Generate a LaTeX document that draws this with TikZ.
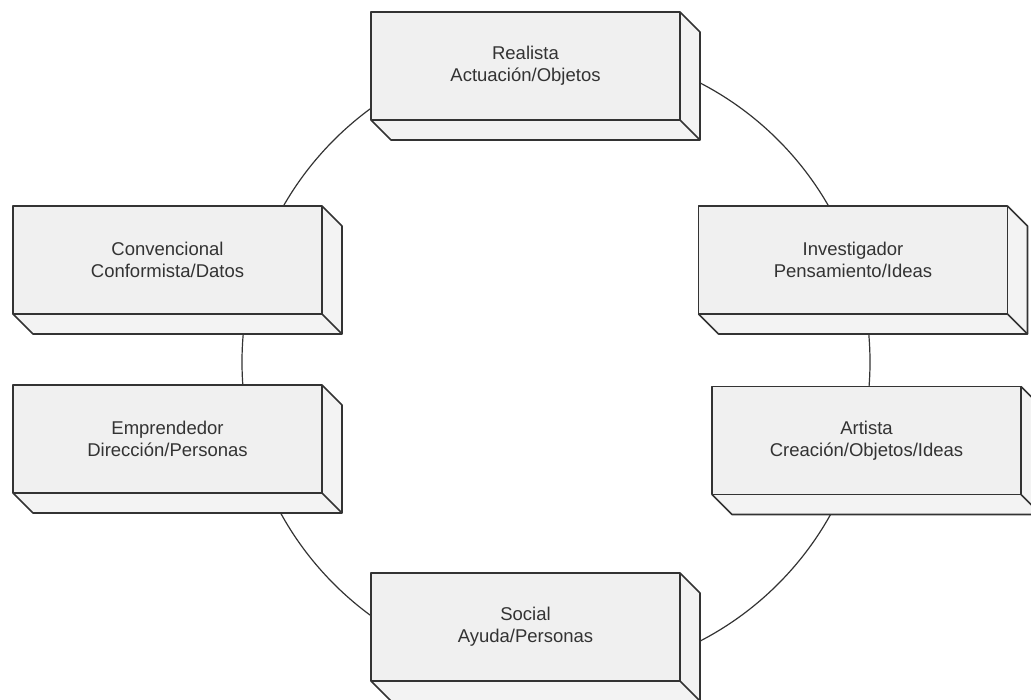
\documentclass[tikz,border=0pt]{standalone}
\usepackage{fontspec}
\setmainfont{Liberation Sans}
\definecolor{facefill}{HTML}{F0F0F0}
\definecolor{sidefill}{HTML}{F3F3F3}
\definecolor{edge}{HTML}{333333}
\definecolor{txt}{HTML}{333333}
\tikzset{
  front/.style={rectangle,
    minimum width=309pt, minimum height=108pt, inner sep=0pt, outer sep=0pt,
    align=center, text=txt, font=\fontsize{18.5}{22}\selectfont},
  side/.style={draw=edge, line width=1.6pt, line join=round},
  ring/.style={draw=edge, line width=1.2pt}
}
\newcommand{\depthbox}[4]{%
  \node[front] (#1) at (#2,#3) {};
  \fill[sidefill] (#1.north east) -- ++(20,20) -- ([shift={(20,20)}]#1.south east)
     -- ([shift={(20,20)}]#1.south west) -- (#1.south west) -- (#1.south east) -- cycle;
  \draw[side, fill=facefill] (#1.north west) rectangle (#1.south east);
  \draw[side] (#1.north east) -- ++(20,20) -- ([shift={(20,20)}]#1.south east) -- ([shift={(20,20)}]#1.south west) -- (#1.south west);
  \draw[side] (#1.south east) -- ([shift={(20,20)}]#1.south east);
  \node[front] (#1-label) at (#1) {#4};
}
\begin{document}
\begin{tikzpicture}[x=1pt,y=-1pt]
\useasboundingbox (0,0) rectangle (1031,700);
\clip (0,0) rectangle (1031,700);
\coordinate (center) at (556,362);
\draw[ring] (center) circle[radius=314pt];
\depthbox{realista}{525.5}{66}{Realista\\Actuación/Objetos}
\depthbox{convencional}{167.5}{260}{Convencional\\Conformista/Datos}
\depthbox{investigador}{853}{260}{Investigador\\Pensamiento/Ideas}
\depthbox{emprendedor}{167.5}{439}{Emprendedor\\Dirección/Personas}
\depthbox{artista}{866.5}{440.5}{Artista\\Creación/Objetos/Ideas}
\depthbox{social}{525.5}{627}{Social\\Ayuda/Personas}
\end{tikzpicture}
\end{document}
